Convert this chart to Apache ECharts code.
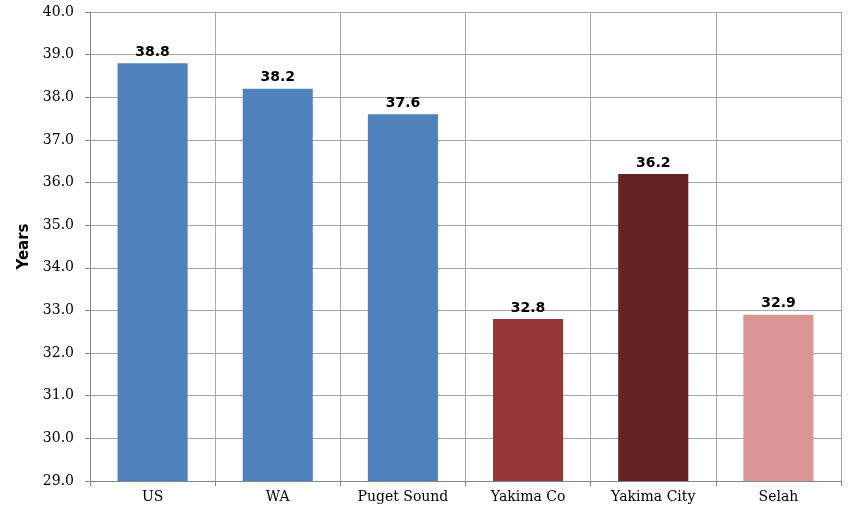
<!DOCTYPE html>
<html><head><meta charset="utf-8">
<script src="https://cdn.jsdelivr.net/npm/echarts@6/dist/echarts.min.js"></script>
<style>html,body{margin:0;padding:0;background:#fff}#c{width:850px;height:510px}</style>
</head><body><div id="c"></div>
<script>
const categories = ["US", "WA", "Puget Sound", "Yakima Co", "Yakima City", "Selah"];
const values = [38.8, 38.2, 37.6, 32.8, 36.2, 32.9];
const barColors = ["#4F81BD", "#4F81BD", "#4F81BD", "#953735", "#632423", "#D99694"];
const yTitle = "Years";

const chart = echarts.init(document.getElementById('c'), null, {renderer: 'canvas'});
chart.setOption({
  animation: false,
  grid: {left: 90, right: 9, top: 12, bottom: 29},
  xAxis: {
    type: 'category', data: categories,
    axisLine: {lineStyle: {color: '#868686'}},
    axisTick: {show: true, length: 5, lineStyle: {color: '#868686'}},
    splitLine: {show: true, lineStyle: {color: '#A6A6A6'}},
    axisLabel: {color: '#000', fontFamily: 'DejaVu Serif', fontSize: 14, margin: 9}
  },
  yAxis: {
    type: 'value', min: 29, max: 40, interval: 1,
    name: yTitle, nameLocation: 'middle', nameGap: 58, nameRotate: 90,
    nameTextStyle: {fontFamily: 'DejaVu Sans', fontWeight: 'bold', fontSize: 15, color: '#000'},
    axisLine: {show: true, lineStyle: {color: '#868686'}},
    axisTick: {show: true, length: 5, lineStyle: {color: '#868686'}},
    splitLine: {show: true, lineStyle: {color: '#A6A6A6'}},
    axisLabel: {color: '#000', fontFamily: 'DejaVu Serif', fontSize: 14, margin: 16,
      formatter: v => v.toFixed(1)}
  },
  series: [{
    type: 'bar', barWidth: '56%',
    data: values.map((v, i) => ({value: v, itemStyle: {color: barColors[i]}})),
    label: {show: true, position: 'top', distance: 4, color: '#000',
      fontFamily: 'DejaVu Sans', fontWeight: 'bold', fontSize: 14,
      formatter: p => p.value.toFixed(1)}
  }]
});
</script></body></html>
